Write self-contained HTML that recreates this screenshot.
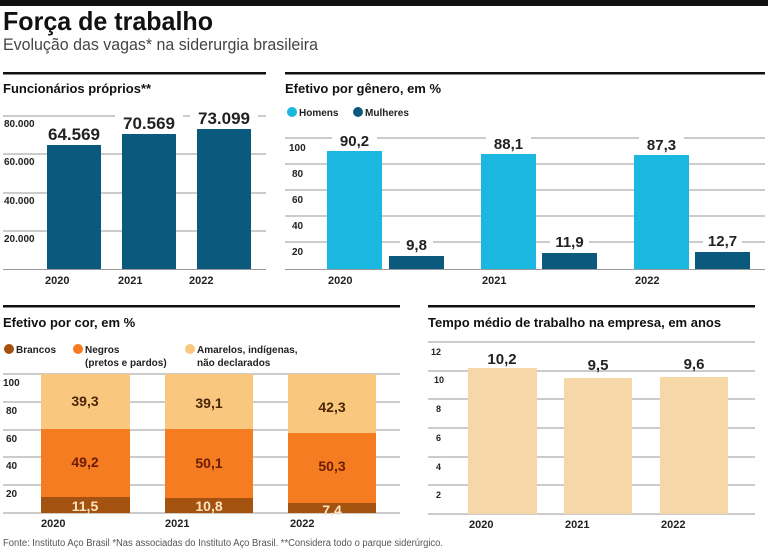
<!DOCTYPE html>
<html><head><meta charset="utf-8"><style>
body{margin:0;background:#fff;}
svg{display:block;font-family:"Liberation Sans",sans-serif;}
.b{font-weight:bold;}
</style></head><body>
<svg width="768" height="550" viewBox="0 0 768 550">
<rect x="0" y="0" width="768" height="6" fill="#111"/>
<text x="3" y="30" font-size="26" class="b" fill="#111" textLength="210" lengthAdjust="spacingAndGlyphs">Força de trabalho</text>
<text x="3" y="50" font-size="16.5" fill="#444" textLength="315" lengthAdjust="spacingAndGlyphs">Evolução das vagas* na siderurgia brasileira</text>

<!-- Panel 1 -->
<rect x="3" y="72" width="263" height="2.5" fill="#111"/>
<text x="3" y="93" font-size="13" class="b" fill="#111">Funcionários próprios**</text>
<g stroke="#999" stroke-width="1">
<line x1="3" x2="266" y1="116" y2="116"/><line x1="3" x2="266" y1="154" y2="154"/>
<line x1="3" x2="266" y1="193" y2="193"/><line x1="3" x2="266" y1="231" y2="231"/>
<line x1="3" x2="266" y1="269.5" y2="269.5"/></g>
<g font-size="10" class="b" fill="#222">
<text x="4" y="127">80.000</text><text x="4" y="165">60.000</text><text x="4" y="204">40.000</text><text x="4" y="242">20.000</text></g>
<g fill="#0b5a7e">
<rect x="47" y="145" width="54" height="124"/><rect x="122" y="134" width="54" height="135"/><rect x="197" y="129" width="54" height="140"/></g>
<g font-size="17" class="b" fill="#222" text-anchor="middle">
<rect x="40" y="122" width="68" height="22" fill="#fff"/><text x="74" y="140">64.569</text>
<rect x="115" y="111" width="68" height="22" fill="#fff"/><text x="149" y="129">70.569</text>
<rect x="190" y="106" width="68" height="22" fill="#fff"/><text x="224" y="124">73.099</text></g>
<g font-size="11" class="b" fill="#222">
<text x="45" y="284">2020</text><text x="118" y="284">2021</text><text x="189" y="284">2022</text></g>

<!-- Panel 2 -->
<rect x="285" y="72" width="480" height="2.5" fill="#111"/>
<text x="285" y="93" font-size="13" class="b" fill="#111">Efetivo por gênero, em %</text>
<circle cx="292" cy="112" r="5" fill="#1ab8e0"/><text x="299" y="116" font-size="10" class="b" fill="#222">Homens</text>
<circle cx="358" cy="112" r="5" fill="#0b5a7e"/><text x="365" y="116" font-size="10" class="b" fill="#222">Mulheres</text>
<g stroke="#999" stroke-width="1">
<line x1="285" x2="765" y1="138" y2="138"/><line x1="285" x2="765" y1="164" y2="164"/>
<line x1="285" x2="765" y1="190" y2="190"/><line x1="285" x2="765" y1="216" y2="216"/>
<line x1="285" x2="765" y1="242" y2="242"/><line x1="285" x2="765" y1="269.5" y2="269.5"/></g>
<g font-size="10" class="b" fill="#222">
<text x="289" y="151">100</text><text x="292" y="177">80</text><text x="292" y="203">60</text><text x="292" y="229">40</text><text x="292" y="255">20</text></g>
<g fill="#1ab8e0"><rect x="327" y="151" width="55" height="118"/><rect x="481" y="154" width="55" height="115"/><rect x="634" y="155" width="55" height="114"/></g>
<g fill="#0b5a7e"><rect x="389" y="256" width="55" height="13"/><rect x="542" y="253" width="55" height="16"/><rect x="695" y="252" width="55" height="17"/></g>
<g font-size="15" class="b" fill="#222" text-anchor="middle">
<rect x="332" y="132" width="45" height="17" fill="#fff"/><text x="354.5" y="146">90,2</text>
<rect x="486" y="135" width="45" height="17" fill="#fff"/><text x="508.5" y="149">88,1</text>
<rect x="639" y="136" width="45" height="17" fill="#fff"/><text x="661.5" y="150">87,3</text>
<rect x="400" y="235" width="33" height="17" fill="#fff"/><text x="416.5" y="250">9,8</text>
<rect x="550" y="232" width="39" height="17" fill="#fff"/><text x="569.5" y="247">11,9</text>
<rect x="703" y="231" width="39" height="17" fill="#fff"/><text x="722.5" y="246">12,7</text></g>
<g font-size="11" class="b" fill="#222">
<text x="328" y="284">2020</text><text x="482" y="284">2021</text><text x="635" y="284">2022</text></g>

<!-- Panel 3 -->
<rect x="3" y="305" width="397" height="2.5" fill="#111"/>
<text x="3" y="327" font-size="13" class="b" fill="#111">Efetivo por cor, em %</text>
<circle cx="9" cy="349" r="5" fill="#a4520f"/><text x="16" y="353" font-size="10" class="b" fill="#222">Brancos</text>
<circle cx="78" cy="349" r="5" fill="#f57c20"/><text x="85" y="353" font-size="10" class="b" fill="#222">Negros</text>
<text x="85" y="366" font-size="10" class="b" fill="#222">(pretos e pardos)</text>
<circle cx="190" cy="349" r="5" fill="#fac77e"/><text x="197" y="353" font-size="10" class="b" fill="#222">Amarelos, indígenas,</text>
<text x="197" y="366" font-size="10" class="b" fill="#222">não declarados</text>
<g stroke="#999" stroke-width="1">
<line x1="3" x2="400" y1="374" y2="374"/><line x1="3" x2="400" y1="402" y2="402"/>
<line x1="3" x2="400" y1="430" y2="430"/><line x1="3" x2="400" y1="457" y2="457"/>
<line x1="3" x2="400" y1="485" y2="485"/><line x1="3" x2="400" y1="513" y2="513"/></g>
<g font-size="10" class="b" fill="#222">
<text x="3" y="386">100</text><text x="6" y="414">80</text><text x="6" y="442">60</text><text x="6" y="469">40</text><text x="6" y="497">20</text></g>
<g>
<rect x="41" y="374" width="89" height="55" fill="#fac77e"/><rect x="41" y="429" width="89" height="68" fill="#f57c20"/><rect x="41" y="497" width="89" height="16" fill="#a4520f"/>
<rect x="165" y="374" width="88" height="55" fill="#fac77e"/><rect x="165" y="429" width="88" height="69" fill="#f57c20"/><rect x="165" y="498" width="88" height="15" fill="#a4520f"/>
<rect x="288" y="374" width="88" height="59" fill="#fac77e"/><rect x="288" y="433" width="88" height="70" fill="#f57c20"/><rect x="288" y="503" width="88" height="10" fill="#a4520f"/></g>
<g font-size="14" class="b" text-anchor="middle">
<text x="85" y="406" fill="#4a2606">39,3</text><text x="209" y="408" fill="#4a2606">39,1</text><text x="332" y="412" fill="#4a2606">42,3</text>
<text x="85" y="467" fill="#6a1c05">49,2</text><text x="209" y="468" fill="#6a1c05">50,1</text><text x="332" y="471" fill="#6a1c05">50,3</text>
<text x="85" y="511" fill="#fde3c0">11,5</text><text x="209" y="511" fill="#fde3c0">10,8</text><text x="332" y="515" fill="#fde3c0">7,4</text></g>
<g font-size="11" class="b" fill="#222">
<text x="41" y="527">2020</text><text x="165" y="527">2021</text><text x="290" y="527">2022</text></g>

<!-- Panel 4 -->
<rect x="428" y="305" width="327" height="2.5" fill="#111"/>
<text x="428" y="327" font-size="13" class="b" fill="#111">Tempo médio de trabalho na empresa, em anos</text>
<g stroke="#999" stroke-width="1">
<line x1="428" x2="755" y1="342" y2="342"/><line x1="428" x2="755" y1="371" y2="371"/>
<line x1="428" x2="755" y1="399" y2="399"/><line x1="428" x2="755" y1="428" y2="428"/>
<line x1="428" x2="755" y1="457" y2="457"/><line x1="428" x2="755" y1="485" y2="485"/>
<line x1="428" x2="755" y1="514" y2="514"/></g>
<g font-size="9" class="b" fill="#222">
<text x="431" y="355">12</text><text x="434" y="383">10</text><text x="436" y="412">8</text><text x="436" y="441">6</text><text x="436" y="470">4</text><text x="436" y="498">2</text></g>
<g fill="#f6d7a7"><rect x="468" y="368" width="69" height="146"/><rect x="564" y="378" width="68" height="136"/><rect x="660" y="377" width="68" height="137"/></g>
<g font-size="15" class="b" fill="#222" text-anchor="middle">
<text x="502" y="364">10,2</text>
<rect x="585" y="356" width="27" height="14" fill="#fff"/><text x="598" y="370">9,5</text>
<rect x="681" y="355" width="27" height="14" fill="#fff"/><text x="694" y="369">9,6</text></g>
<g font-size="11" class="b" fill="#222">
<text x="469" y="528">2020</text><text x="565" y="528">2021</text><text x="661" y="528">2022</text></g>

<text x="3" y="546" font-size="10" fill="#555" textLength="440" lengthAdjust="spacingAndGlyphs">Fonte: Instituto Aço Brasil *Nas associadas do Instituto Aço Brasil. **Considera todo o parque siderúrgico.</text>
</svg>
</body></html>
